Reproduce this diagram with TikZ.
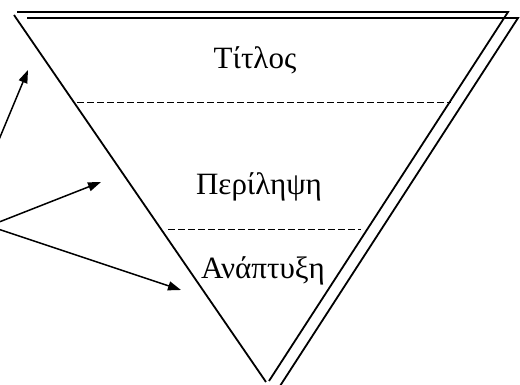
\documentclass[tikz,border=0pt]{standalone}
\usepackage{fontspec}
\setmainfont{Liberation Serif}
\usetikzlibrary{arrows.meta}
\begin{document}
\begin{tikzpicture}[x=1pt,y=-1pt,
  edge/.style={line width=1.8pt,line join=miter},
  divider/.style={line width=0.9pt,dash pattern=on 6.5pt off 3.5pt},
  pointer/.style={line width=1.5pt,-{Triangle[length=13pt,width=9pt]}},
  label/.style={font=\fontsize{31}{33}\selectfont,anchor=base,inner sep=0pt}]
\useasboundingbox (0,0) rectangle (520,385);
% shadow outline
\draw[edge] (27,18) -- (518,18) -- (280,386);
% front outline
\draw[edge] (17,12) -- (508,12) -- (269,381);
\draw[edge] (14,15) -- (266,382);
% dividers
\coordinate (d1a) at (77,102);
\coordinate (d1b) at (451,102);
\coordinate (d2a) at (168,229);
\coordinate (d2b) at (361,229);
\draw[divider] (d1a) -- (d1b);
\draw[divider] (d2a) -- (d2b);
% labels
\node[label] (titlos) at (255,69) {Τίτλος};
\node[label] (perilipsi) at (259,195) {Περίληψη};
\node[label] (anaptyxi) at (263,278) {Ανάπτυξη};
% arrows
\coordinate (s1) at (-2,142);
\coordinate (s2) at (-11,226);
\coordinate (t1) at (28,70);
\coordinate (t2) at (101,182);
\coordinate (t3) at (181,290);
\draw[pointer] (s1) -- (t1);
\draw[pointer] (s2) -- (t2);
\draw[pointer] (s2) -- (t3);
\end{tikzpicture}
\end{document}
